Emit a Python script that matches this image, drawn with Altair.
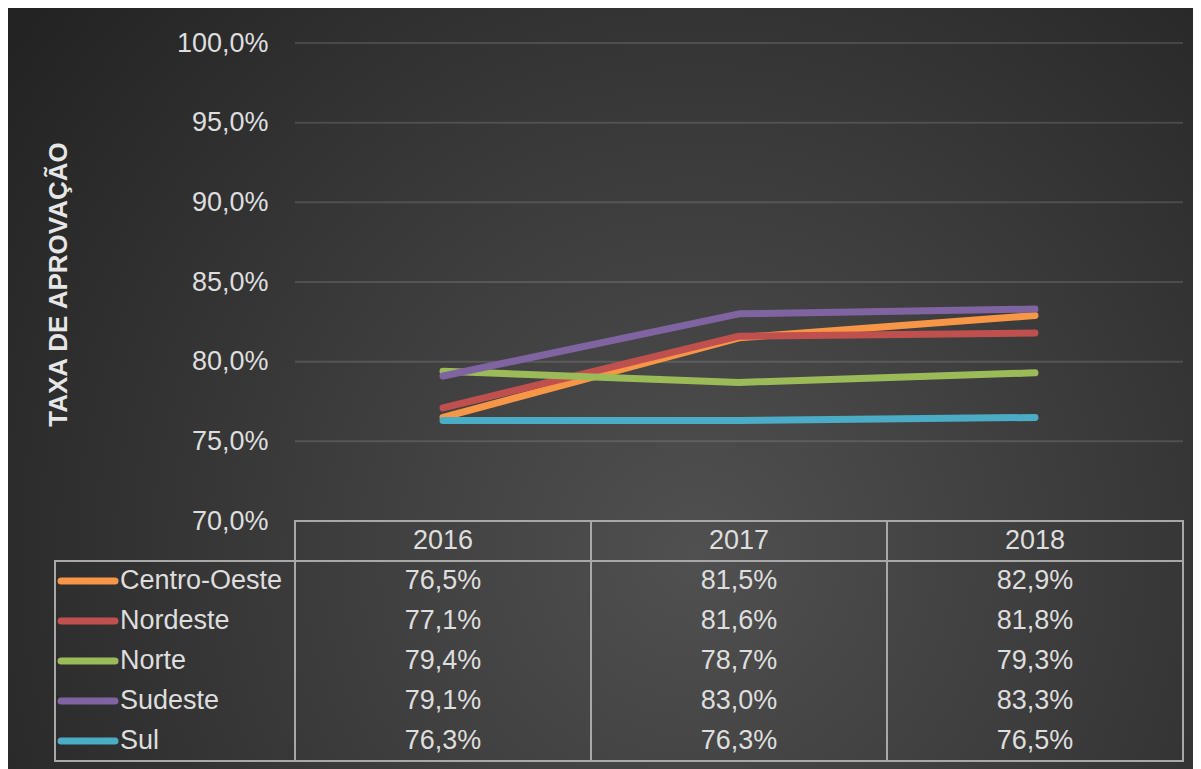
import altair as alt
import pandas as pd

# ---------------- data ----------------
years = [2016, 2017, 2018]
regions = ["Centro-Oeste", "Nordeste", "Norte", "Sudeste", "Sul"]
centro_oeste = [76.5, 81.5, 82.9]
nordeste = [77.1, 81.6, 81.8]
norte = [79.4, 78.7, 79.3]
sudeste = [79.1, 83.0, 83.3]
sul = [76.3, 76.3, 76.5]
series_colors = ["#f79646", "#c0504d", "#9bbb59", "#8064a2", "#4bacc6"]
y_ticks = [70, 75, 80, 85, 90, 95, 100]
y_title = "TAXA DE APROVAÇÃO"

series = [centro_oeste, nordeste, norte, sudeste, sul]
rows = []
for i, (reg, vals) in enumerate(zip(regions, series)):
    for yr, v in zip(years, vals):
        rows.append({
            "region": reg, "year": yr, "value": v, "order": i,
            "row": i + 1,
            "label": f"{v:.1f}%".replace(".", ","),
        })
df = pd.DataFrame(rows)
years_df = pd.DataFrame({"year": years, "year_label": [str(y) for y in years]})
ticks_df = pd.DataFrame({"t": y_ticks[1:]})
one_df = pd.DataFrame({"k": [0]})

# ---------------- layout/style ----------------
W, H, TH = 888, 478, 240
FONT = "Liberation Sans"
FS = 27
TXT = "#dedede"
BORDER = "#a8a8a8"

xscale = alt.Scale(domain=[2015.5, 2018.5], nice=False, zero=False)
yscale = alt.Scale(domain=[70, 100], nice=False, zero=False)
cscale = alt.Scale(domain=regions, range=series_colors)

yaxis = alt.Axis(
    values=y_ticks,
    labelExpr="replace(format(datum.value, '.1f'), '.', ',') + '%'",
    labelFont=FONT, labelFontSize=FS, labelColor=TXT, labelPadding=27,
    domain=False, ticks=False, grid=False, zindex=1,
    title=y_title, titleFont=FONT, titleFontSize=26, titleFontWeight="bold",
    titleColor="#e6e6e6", titleAngle=270, titleX=-237, titleY=241,
    titleAlign="center", titleBaseline="middle",
)

gradient = {
    "gradient": "radial",
    "x1": 0.58, "y1": 0.64, "r1": 0,
    "x2": 0.58, "y2": 0.64, "r2": 0.72,
    "stops": [
        {"offset": 0.0, "color": "#505050"},
        {"offset": 0.45, "color": "#3c3c3c"},
        {"offset": 1.0, "color": "#232323"},
    ],
}

bg = alt.Chart(one_df).mark_rect(fill=gradient, strokeWidth=0).encode(
    x=alt.value(-287), x2=alt.value(W + 10),
    y=alt.value(-35), y2=alt.value(H + TH + 8),
)

grid = alt.Chart(ticks_df).mark_rule(color="#ffffff", opacity=0.13, strokeWidth=2).encode(
    y=alt.Y("t:Q", scale=yscale, axis=yaxis),
    x=alt.value(0), x2=alt.value(W),
)

lines = alt.Chart(df).mark_line(strokeWidth=7, strokeCap="round", strokeJoin="round").encode(
    x=alt.X("year:Q", scale=xscale, axis=None),
    y=alt.Y("value:Q", scale=yscale, axis=yaxis),
    color=alt.Color("region:N", scale=cscale, legend=None),
    order=alt.Order("year:Q"),
)

top = alt.layer(bg, grid, lines).properties(width=W, height=H)

# ---------------- table ----------------
tscale = alt.Scale(domain=[0, 6], reverse=True, nice=False, zero=False)

hdr_rect = alt.Chart(years_df).transform_calculate(
    x0="datum.year - 0.5", x1="datum.year + 0.5", y0="0", y1="1"
).mark_rect(fillOpacity=0, stroke=BORDER, strokeWidth=2).encode(
    x=alt.X("x0:Q", scale=xscale, axis=None), x2="x1:Q",
    y=alt.Y("y0:Q", scale=tscale, axis=None), y2="y1:Q",
)
body_rect = alt.Chart(years_df).transform_calculate(
    x0="datum.year - 0.5", x1="datum.year + 0.5", y0="1", y1="6"
).mark_rect(fillOpacity=0, stroke=BORDER, strokeWidth=2).encode(
    x=alt.X("x0:Q", scale=xscale, axis=None), x2="x1:Q",
    y=alt.Y("y0:Q", scale=tscale, axis=None), y2="y1:Q",
)
legend_rect = alt.Chart(one_df).transform_calculate(
    y0="1", y1="6"
).mark_rect(fillOpacity=0, stroke=BORDER, strokeWidth=2).encode(
    x=alt.value(-240), x2=alt.value(0),
    y=alt.Y("y0:Q", scale=tscale, axis=None), y2="y1:Q",
)
hdr_text = alt.Chart(years_df).transform_calculate(ym="0.5").mark_text(
    font=FONT, fontSize=FS, color=TXT, align="center", baseline="middle"
).encode(
    x=alt.X("year:Q", scale=xscale, axis=None),
    y=alt.Y("ym:Q", scale=tscale, axis=None),
    text="year_label:N",
)
first = df[df["year"] == years[0]]
swatch = alt.Chart(first).transform_calculate(ym="datum.row + 0.5").mark_rule(
    strokeWidth=7, strokeCap="round"
).encode(
    x=alt.value(-234), x2=alt.value(-180),
    y=alt.Y("ym:Q", scale=tscale, axis=None),
    color=alt.Color("region:N", scale=cscale, legend=None),
)
names = alt.Chart(first).transform_calculate(ym="datum.row + 0.5").mark_text(
    font=FONT, fontSize=FS, color=TXT, align="left", baseline="middle"
).encode(
    x=alt.value(-175),
    y=alt.Y("ym:Q", scale=tscale, axis=None),
    text="region:N",
)
vals = alt.Chart(df).transform_calculate(ym="datum.row + 0.5").mark_text(
    font=FONT, fontSize=FS, color=TXT, align="center", baseline="middle"
).encode(
    x=alt.X("year:Q", scale=xscale, axis=None),
    y=alt.Y("ym:Q", scale=tscale, axis=None),
    text="label:N",
)

bottom = alt.layer(hdr_rect, body_rect, legend_rect, hdr_text, swatch, names, vals).properties(
    width=W, height=TH
)

chart = alt.vconcat(top, bottom, spacing=0, bounds="flush").properties(
    padding=0, background="#262626"
).configure_view(stroke=None)

chart.save("out.html", embed_options={"renderer": "svg", "actions": False})
